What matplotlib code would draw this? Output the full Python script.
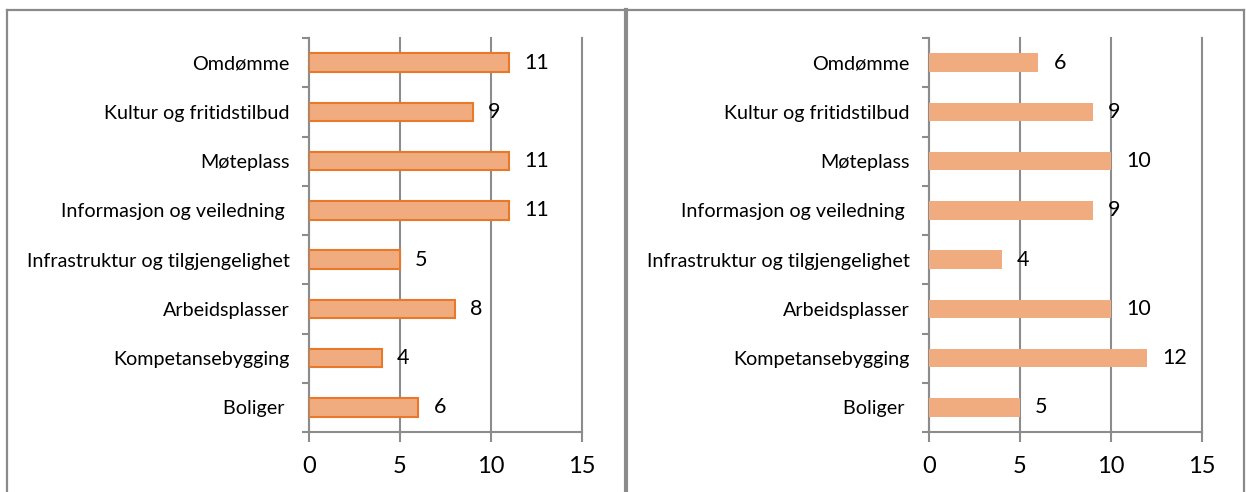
import numpy as np
import matplotlib.pyplot as plt
from matplotlib.lines import Line2D

plt.rcParams['font.family'] = ['Lato', 'DejaVu Sans']

# data (top to bottom as shown)
categories = ["Omdømme", "Kultur og fritidstilbud", "Møteplass",
              "Informasjon og veiledning ", "Infrastruktur og tilgjengelighet",
              "Arbeidsplasser", "Kompetansebygging", "Boliger "]
values_left = [11, 9, 11, 11, 5, 8, 4, 6]
values_right = [6, 9, 10, 9, 4, 10, 12, 5]
x_ticks = [0, 5, 10, 15]

W, H = 1246, 492
fig = plt.figure(figsize=(W / 100, H / 100), dpi=100)
fig.patch.set_facecolor('white')

FILL = '#F0AC7E'
EDGE = '#E8782A'
GRID = '#8C8C8C'


def draw_panel(ax, values, edge):
    n = len(categories)
    ypos = np.arange(n)[::-1]
    if edge:
        ax.barh(ypos, values, height=0.38, color=FILL, edgecolor=EDGE,
                linewidth=1.5, zorder=3)
    else:
        ax.barh(ypos, values, height=0.38, color=FILL, edgecolor='none',
                zorder=3)
    for y, v in zip(ypos, values):
        ax.annotate(str(v), (v, y), xytext=(11, 0), textcoords='offset points',
                    va='center', ha='left', fontsize=15.5, color='black', zorder=4)
    ax.set_xlim(0, 15)
    ax.set_ylim(-0.5, n - 0.5)
    ax.set_xticks(x_ticks)
    ax.set_xticklabels([str(t) for t in x_ticks], fontsize=17)
    ax.set_yticks(ypos)
    ax.set_yticklabels(categories, fontsize=14.2)
    ax.set_yticks(np.arange(-0.5, n, 1.0), minor=True)
    ax.tick_params(axis='y', which='major', length=0, pad=14)
    ax.tick_params(axis='y', which='minor', length=5, width=1.5, color=GRID,
                   direction='out')
    ax.tick_params(axis='x', length=7, width=1.5, color=GRID,
                   direction='out', pad=10)
    ax.grid(axis='x', color=GRID, linewidth=1.5, zorder=0)
    for gl in ax.get_xgridlines():
        gl.set_clip_on(False)
    for s in ['top', 'right']:
        ax.spines[s].set_visible(False)
    for s in ['left', 'bottom']:
        ax.spines[s].set_color(GRID)
        ax.spines[s].set_linewidth(1.5)
    ax.set_facecolor('none')


def fx(px):
    return px / W


def fy(py):
    return 1 - py / H


ax1 = fig.add_axes([fx(309), fy(432), fx(582 - 309), (432 - 38) / H])
ax2 = fig.add_axes([fx(929), fy(432), fx(1202 - 929), (432 - 38) / H])
draw_panel(ax1, values_left, True)
draw_panel(ax2, values_right, False)

# panel frames
border = '#8A8A8A'
fig.add_artist(Line2D([fx(7), fx(1244)], [fy(9.5), fy(9.5)], color=border, lw=1.6))
fig.add_artist(Line2D([fx(7), fx(7)], [fy(9.5), 0], color=border, lw=1.6))
fig.add_artist(Line2D([fx(626), fx(626)], [fy(9.5), 0], color=border, lw=3.0))
fig.add_artist(Line2D([fx(1244), fx(1244)], [fy(9.5), 0], color=border, lw=1.6))

fig.savefig('out.png', dpi=100, facecolor='white')
